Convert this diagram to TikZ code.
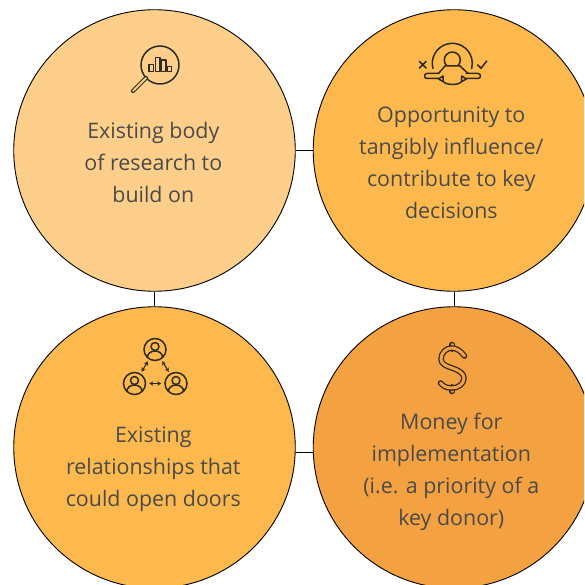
\documentclass[tikz,border=0pt]{standalone}
\usepackage{fontspec}
\setmainfont{Open Sans}
\usetikzlibrary{arrows.meta}
\definecolor{lightorange}{HTML}{FDCF8B}
\definecolor{midorange}{HTML}{FDB94D}
\definecolor{darkorange}{HTML}{F4A142}
\definecolor{inkgrey}{HTML}{4A4A4A}
\definecolor{iconink}{HTML}{2E2A25}
\tikzset{
  bigcircle/.style={shape=circle,draw=black,line width=0.9pt,minimum size=281.5pt,inner sep=0pt},
  joinline/.style={line width=0.9pt},
  bodytext/.style={align=center,text=inkgrey,inner sep=0pt,font=\fontsize{21.4}{32}\selectfont},
  iconline/.style={draw=iconink,line width=1.5pt,line cap=round,line join=round},
  dollarline/.style={iconline,line width=1.3pt,double=darkorange,double distance=3pt},
  personring/.style={shape=circle,draw=iconink,line width=1.5pt,minimum size=22pt,inner sep=0pt},
  linkarrow/.style={iconline,line width=1.1pt,{Stealth[length=4pt,width=4.5pt]}-{Stealth[length=4pt,width=4.5pt]},shorten <=2pt,shorten >=2pt}
}
\begin{document}
\begin{tikzpicture}
[x=1pt,y=-1pt]
\useasboundingbox (0,0) rectangle (584,585);
\clip (0,0) rectangle (584,585);
\node[bigcircle,fill=lightorange] (research) at (154.5,150.5) {};
\node[bigcircle,fill=midorange] (influence) at (454,150.5) {};
\node[bigcircle,fill=midorange] (relations) at (154.5,447.5) {};
\node[bigcircle,fill=darkorange] (money) at (454,447.5) {};
\draw[joinline] (research) -- (influence);
\draw[joinline] (research.-90.5) -- (relations.90.5);
\draw[joinline] (influence) -- (money);
\draw[joinline] (relations.-2) -- (money.182);
\node[bodytext] (researchtext) at (153.3,162) {Existing body\\of research to\\build on};
\node[bodytext] (influencetext) at (451.3,163) {Opportunity to\\tangibly influence/\\contribute to key\\decisions};
\node[bodytext] (relationstext) at (153.3,469) {Existing\\relationships that\\could open doors};
\node[bodytext] (moneytext) at (451.3,472) {Money for\\implementation\\(i.e. a priority of a\\key donor)};
% magnifier
\draw[iconline] (160,65) circle (19);
\draw[iconline,line width=1.1pt,double=lightorange,double distance=2pt] (146,78) -- (133,91);
\foreach \xa/\xb/\ya in {149/153.5/64.5,155.5/160/57.5,161.5/166/60,167.5/171.5/66.5}
  \draw[iconline,line width=1.2pt] (\xa,\ya) rectangle (\xb,71.5);
% person with choice marks
\draw[iconline] (433,68.5) arc[start angle=165,end angle=375,radius=20];
\draw[iconline] (452.3,60) circle (8);
\draw[iconline,fill=midorange] (438.5,73.5) -- (445,66) -- (460,66) -- (468,73.5);
\draw[iconline] (438.5,73.5) -- (427,73.5) arc[start angle=270,end angle=90,radius=2.5] -- (438.5,78.5);
\draw[iconline] (466,73.5) -- (478,73.5) arc[start angle=-90,end angle=90,radius=2.5] -- (466.5,78.5);
\draw[iconline] (443,76) -- (438.5,79) -- (443,81.5) -- cycle;
\draw[iconline] (461.7,76) -- (466.5,79) -- (461.7,81.5) -- cycle;
\draw[iconline] (443,81.5) .. controls (447,85.5) and (458,85.5) .. (461.7,81.5);
\draw[iconline] (419.5,61.5) -- (426,68);
\draw[iconline] (426,61.5) -- (419.5,68);
\draw[iconline] (477.7,65) -- (481,68.3) -- (486.7,61);
% three people
\foreach \name/\px/\py in {ptop/155/349.5,pleft/134.5/383.5,pright/176/383.5}{
  \node[personring] (\name) at (\px,\py) {};
  \draw[iconline] (\px,\py-3) circle (4);
  \draw[iconline] (\px-7.5,\py+7.5) arc[start angle=180,end angle=360,x radius=7.5,y radius=6];
}
\draw[linkarrow] (ptop) -- (pleft);
\draw[linkarrow] (ptop) -- (pright);
\draw[linkarrow,shorten <=3pt,shorten >=3pt] (pleft) -- (pright);
% dollar
\draw[dollarline] (452,344.5) -- (452,349);
\draw[dollarline] (452,387) -- (452,391.5);
\draw[dollarline] (464.5,356)
  .. controls (461,351) and (456,348) .. (451.7,348)
  .. controls (446,348) and (441,353) .. (441,359)
  .. controls (441,364) and (446,366) .. (452,368)
  .. controls (458,370) and (464,373) .. (464,378)
  .. controls (464,384) and (458,388) .. (452,388)
  .. controls (446,388) and (443,386) .. (440.5,383);
\end{tikzpicture}
\end{document}
